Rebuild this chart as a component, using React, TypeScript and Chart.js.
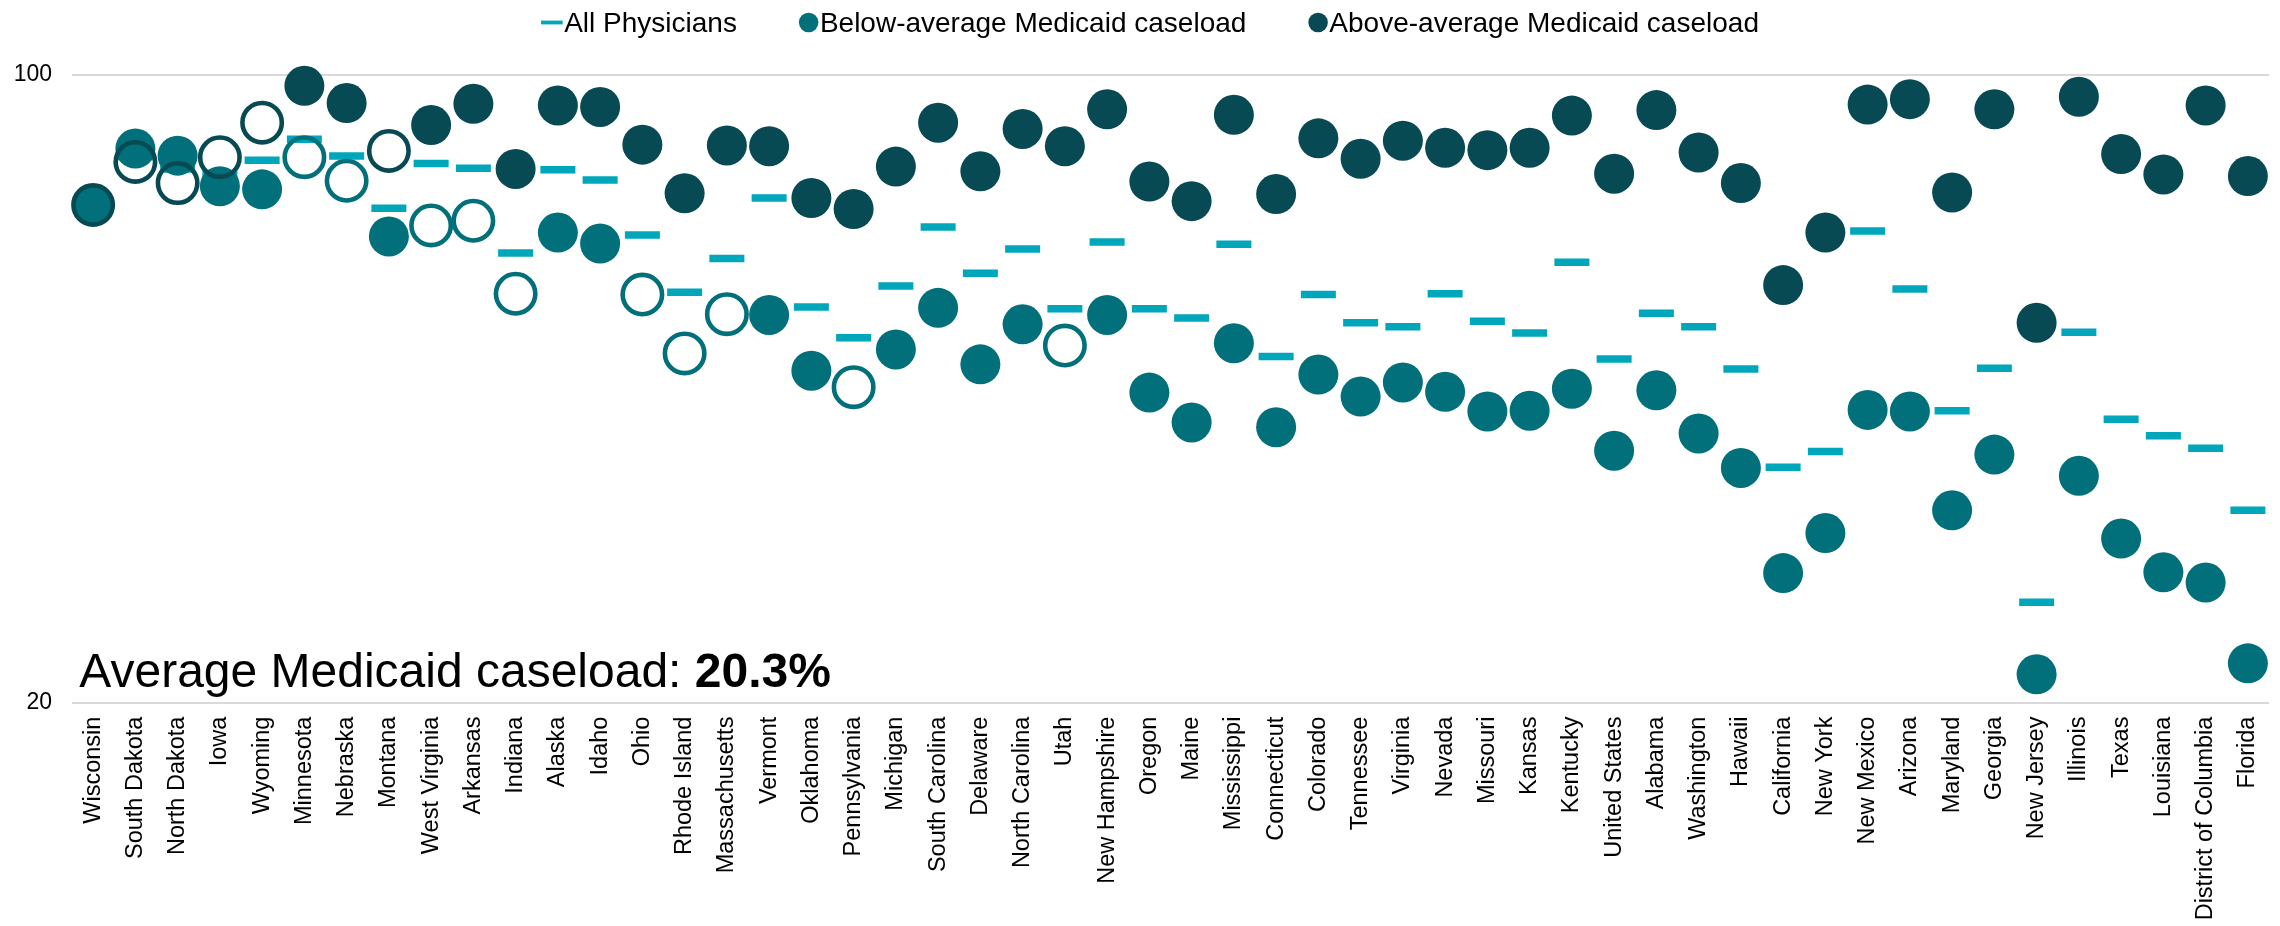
import React, { useEffect, useRef } from 'react';
import { Chart, registerables } from 'chart.js';

Chart.register(...registerables);

const STATES = [
  'Wisconsin', 'South Dakota', 'North Dakota', 'Iowa', 'Wyoming', 'Minnesota', 'Nebraska', 'Montana',
  'West Virginia', 'Arkansas', 'Indiana', 'Alaska', 'Idaho', 'Ohio', 'Rhode Island', 'Massachusetts',
  'Vermont', 'Oklahoma', 'Pennsylvania', 'Michigan', 'South Carolina', 'Delaware', 'North Carolina', 'Utah',
  'New Hampshire', 'Oregon', 'Maine', 'Mississippi', 'Connecticut', 'Colorado', 'Tennessee', 'Virginia',
  'Nevada', 'Missouri', 'Kansas', 'Kentucky', 'United States', 'Alabama', 'Washington', 'Hawaii',
  'California', 'New York', 'New Mexico', 'Arizona', 'Maryland', 'Georgia', 'New Jersey', 'Illinois',
  'Texas', 'Louisiana', 'District of Columbia', 'Florida',
];

const ALL_PHYSICIANS = [
  83.4, 89.6, 88.0, 87.4, 89.1, 91.8, 89.65, 83.0,
  88.7, 88.1, 77.3, 87.9, 86.6, 79.6, 72.3, 76.6,
  84.3, 70.4, 66.5, 73.1, 80.6, 74.7, 77.8, 70.2,
  78.7, 70.2, 69.0, 78.4, 64.1, 72.0, 68.4, 67.9,
  72.1, 68.6, 67.1, 76.1, 63.8, 69.6, 67.9, 62.5,
  50.0, 52.0, 80.1, 72.7, 57.2, 62.6, 32.8, 67.2,
  56.1, 54.0, 52.4, 44.5,
];

const BELOW_AVERAGE = [
  83.4, 90.6, 89.7, 85.8, 85.4, 89.5, 86.5, 79.4,
  80.8, 81.4, 72.1, 79.9, 78.5, 72.0, 64.5, 69.5,
  69.4, 62.3, 60.2, 65.0, 70.3, 63.1, 68.2, 65.5,
  69.4, 59.5, 55.7, 65.8, 55.1, 61.8, 59.0, 60.8,
  59.6, 57.1, 57.2, 60.0, 52.1, 59.8, 54.3, 49.9,
  36.5, 41.6, 57.3, 57.1, 44.5, 51.6, 23.6, 48.9,
  40.9, 36.6, 35.3, 25.0,
];

const ABOVE_AVERAGE = [
  83.4, 88.9, 86.2, 89.5, 93.9, 98.6, 96.4, 90.3,
  93.6, 96.3, 88.0, 96.1, 95.9, 91.1, 84.9, 91.0,
  90.9, 84.3, 82.9, 88.3, 93.9, 87.7, 93.1, 90.9,
  95.6, 86.4, 83.9, 94.9, 84.8, 91.9, 89.3, 91.6,
  90.7, 90.4, 90.7, 94.8, 87.4, 95.5, 90.1, 86.2,
  73.2, 79.9, 96.2, 96.9, 85.0, 95.6, 68.4, 97.2,
  89.9, 87.3, 96.1, 87.1,
];

// 1 = difference not significant (drawn as an open circle)
const BELOW_NOT_SIGNIFICANT = [
  0, 0, 0, 0, 0, 1, 1, 0,
  1, 1, 1, 0, 0, 1, 1, 1,
  0, 0, 1, 0, 0, 0, 0, 1,
  0, 0, 0, 0, 0, 0, 0, 0,
  0, 0, 0, 0, 0, 0, 0, 0,
  0, 0, 0, 0, 0, 0, 0, 0,
  0, 0, 0, 0,
];

const ABOVE_NOT_SIGNIFICANT = [
  1, 1, 1, 1, 1, 0, 0, 1,
  0, 0, 0, 0, 0, 0, 0, 0,
  0, 0, 0, 0, 0, 0, 0, 0,
  0, 0, 0, 0, 0, 0, 0, 0,
  0, 0, 0, 0, 0, 0, 0, 0,
  0, 0, 0, 0, 0, 0, 0, 0,
  0, 0, 0, 0,
];

const SERIES_NAMES = ['All Physicians', 'Below-average Medicaid caseload', 'Above-average Medicaid caseload'];
const Y_TICKS = [20, 100];
const ANNOTATION_LABEL = 'Average Medicaid caseload: ';
const ANNOTATION_VALUE = '20.3%';

const FONT = '"Liberation Sans", Arial, Helvetica, sans-serif';
const DASH_COLOR = '#00A6BA';
const TEAL = '#02707A';
const DARK = '#084A54';
const GRID = '#D9D9D9';

const FILLED_R = 20;
const RING_R = 19.7;
const RING_W = 4.6;

const topLegendPlugin = {
  id: 'topLegend',
  afterDraw(chart: any) {
    const { ctx } = chart;
    ctx.save();
    ctx.font = `28px ${FONT}`;
    ctx.textAlign = 'left';
    ctx.textBaseline = 'alphabetic';
    const items = [
      { text: SERIES_NAMES[0], type: 'dash', color: DASH_COLOR },
      { text: SERIES_NAMES[1], type: 'dot', color: TEAL },
      { text: SERIES_NAMES[2], type: 'dot', color: DARK },
    ];
    const markerW = (t: string) => (t === 'dash' ? 21.6 : 19.5);
    const textGap = 1.5;
    const itemGap = 62;
    const widths = items.map((it) => markerW(it.type) + textGap + ctx.measureText(it.text).width);
    const total = widths.reduce((a, b) => a + b, 0) + itemGap * (items.length - 1);
    let x = chart.width / 2 + 10 - total / 2;
    const cy = 22.5;
    const baseline = 32.3;
    items.forEach((it, i) => {
      ctx.fillStyle = it.color;
      if (it.type === 'dash') {
        ctx.fillRect(x, cy - 1.9, 21.6, 3.8);
      } else {
        ctx.beginPath();
        ctx.arc(x + 9.75, cy, 9.75, 0, Math.PI * 2);
        ctx.fill();
      }
      ctx.fillStyle = '#000';
      ctx.fillText(it.text, x + markerW(it.type) + textGap, baseline);
      x += widths[i] + itemGap;
    });
    ctx.restore();
  },
};

const annotationPlugin = {
  id: 'avgAnnotation',
  afterDraw(chart: any) {
    const { ctx, chartArea } = chart;
    ctx.save();
    ctx.textAlign = 'left';
    ctx.textBaseline = 'alphabetic';
    ctx.fillStyle = '#000';
    const x = chartArea.left + 7.3;
    const y = chartArea.bottom - 15.9;
    ctx.font = `48px ${FONT}`;
    ctx.fillText(ANNOTATION_LABEL, x, y);
    const w = ctx.measureText(ANNOTATION_LABEL).width;
    ctx.font = `bold 48px ${FONT}`;
    ctx.fillText(ANNOTATION_VALUE, x + w, y);
    ctx.restore();
  },
};

export default function App() {
  const canvasRef = useRef<HTMLCanvasElement | null>(null);

  useEffect(() => {
    document.body.style.margin = '0';
    const canvas = canvasRef.current;
    if (!canvas) return;

    const circleStyle = (flags: number[], color: string) => ({
      pointStyle: 'circle',
      pointRadius: flags.map((f) => (f ? RING_R : FILLED_R)),
      pointHoverRadius: flags.map((f) => (f ? RING_R : FILLED_R)),
      pointBorderWidth: flags.map((f) => (f ? RING_W : 0)),
      pointHoverBorderWidth: flags.map((f) => (f ? RING_W : 0)),
      pointBackgroundColor: flags.map((f) => (f ? 'rgba(0,0,0,0)' : color)),
      pointHoverBackgroundColor: flags.map((f) => (f ? 'rgba(0,0,0,0)' : color)),
      pointBorderColor: color,
      pointHoverBorderColor: color,
    });

    const chart = new Chart(canvas, {
      type: 'line',
      data: {
        labels: STATES,
        datasets: [
          {
            label: SERIES_NAMES[0],
            data: ALL_PHYSICIANS,
            showLine: false,
            order: 2,
            clip: false,
            pointStyle: 'line',
            pointRadius: 17.5,
            pointHoverRadius: 17.5,
            pointBorderWidth: 7.5,
            pointHoverBorderWidth: 7.5,
            pointBorderColor: DASH_COLOR,
            pointBackgroundColor: DASH_COLOR,
            borderColor: DASH_COLOR,
          } as any,
          {
            label: SERIES_NAMES[1],
            data: BELOW_AVERAGE,
            showLine: false,
            order: 1,
            clip: false,
            borderColor: TEAL,
            ...circleStyle(BELOW_NOT_SIGNIFICANT, TEAL),
          } as any,
          {
            label: SERIES_NAMES[2],
            data: ABOVE_AVERAGE,
            showLine: false,
            order: 0,
            clip: false,
            borderColor: DARK,
            ...circleStyle(ABOVE_NOT_SIGNIFICANT, DARK),
          } as any,
        ],
      },
      options: {
        responsive: false,
        animation: false,
        devicePixelRatio: 1,
        layout: { autoPadding: false, padding: { top: 74.8, right: 11, bottom: 0, left: 0 } },
        events: [],
        plugins: {
          legend: { display: false },
          tooltip: { enabled: false },
        },
        scales: {
          x: {
            type: 'category',
            offset: true,
            grid: { display: false, drawTicks: false },
            border: { display: false },
            ticks: {
              autoSkip: false,
              maxRotation: 90,
              minRotation: 90,
              padding: 14,
              color: '#000',
              font: { family: FONT, size: 23.5 },
            },
            afterFit: (scale: any) => {
              scale.height = 926 - 702.6;
              scale.paddingLeft = 0;
              scale.paddingRight = 0;
            },
          },
          y: {
            type: 'linear',
            min: 20,
            max: 100,
            grid: { color: GRID, lineWidth: 2, drawTicks: false },
            border: { display: false },
            ticks: {
              padding: 20,
              color: '#000',
              font: { family: FONT, size: 23 },
            },
            afterBuildTicks: (scale: any) => {
              scale.ticks = Y_TICKS.map((v) => ({ value: v }));
            },
            afterFit: (scale: any) => {
              scale.width = 72;
            },
          },
        },
      },
      plugins: [topLegendPlugin, annotationPlugin],
    } as any);

    return () => {
      chart.destroy();
    };
  }, []);

  return (
    <div style={{ width: 2280, height: 926, background: '#fff' }}>
      <canvas ref={canvasRef} width={2280} height={926} style={{ display: 'block' }} />
    </div>
  );
}
